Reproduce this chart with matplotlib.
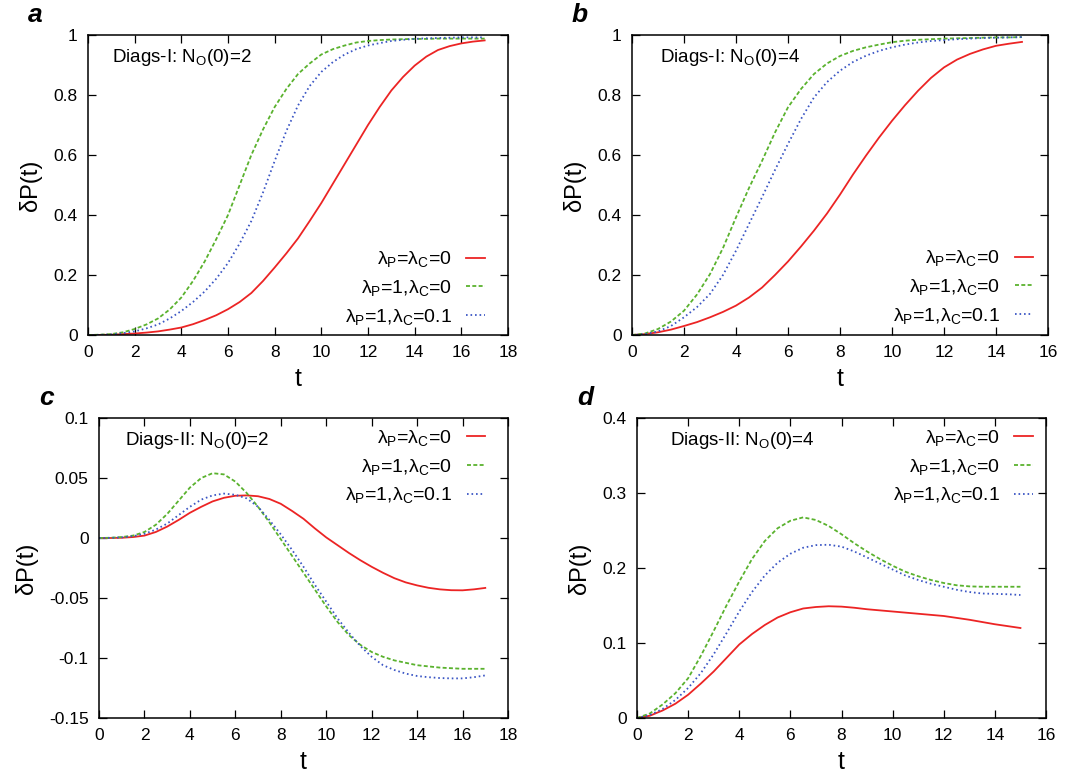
import numpy as np
import matplotlib
matplotlib.use("Agg")
import matplotlib.pyplot as plt

plt.rcParams['font.family'] = ['Liberation Sans', 'DejaVu Sans']
plt.rcParams['mathtext.fontset'] = 'custom'
plt.rcParams['mathtext.rm'] = 'Liberation Sans'
plt.rcParams['mathtext.it'] = 'Liberation Sans:italic'
plt.rcParams['axes.unicode_minus'] = False

# time grids
t17 = np.arange(0, 17.01, 0.5)
t15 = np.arange(0, 15.01, 0.5)

# Diags-I, N_O(0)=2
a_red = [0, 0.0003, 0.001, 0.003, 0.005, 0.008, 0.012, 0.018, 0.025, 0.036, 0.05, 0.066,
         0.086, 0.11, 0.14, 0.18, 0.225, 0.272, 0.322, 0.38, 0.44, 0.505, 0.57, 0.635, 0.7,
         0.76, 0.815, 0.86, 0.898, 0.928, 0.95, 0.963, 0.972, 0.978, 0.982]
a_green = [0, 0.001, 0.003, 0.009, 0.02, 0.035, 0.055, 0.085, 0.125, 0.18, 0.245, 0.32,
           0.4, 0.5, 0.6, 0.685, 0.76, 0.82, 0.87, 0.905, 0.935, 0.953, 0.965, 0.975, 0.98,
           0.983, 0.985, 0.986, 0.987, 0.987, 0.988, 0.988, 0.988, 0.988, 0.988]
a_blue = [0, 0.0005, 0.002, 0.006, 0.012, 0.022, 0.035, 0.055, 0.08, 0.11, 0.145, 0.188,
          0.24, 0.305, 0.38, 0.475, 0.58, 0.68, 0.765, 0.83, 0.877, 0.91, 0.935, 0.953,
          0.965, 0.973, 0.98, 0.984, 0.987, 0.989, 0.99, 0.991, 0.992, 0.992, 0.992]

# Diags-I, N_O(0)=4
b_red = [0, 0.003, 0.009, 0.018, 0.03, 0.043, 0.059, 0.077, 0.098, 0.125, 0.158, 0.2,
         0.245, 0.295, 0.348, 0.405, 0.468, 0.535, 0.598, 0.658, 0.714, 0.766, 0.814,
         0.857, 0.892, 0.918, 0.937, 0.952, 0.964, 0.971, 0.977]
b_green = [0, 0.005, 0.02, 0.045, 0.081, 0.135, 0.203, 0.29, 0.392, 0.49, 0.58, 0.675,
           0.759, 0.82, 0.87, 0.905, 0.93, 0.947, 0.959, 0.968, 0.976, 0.981, 0.984,
           0.986, 0.988, 0.989, 0.99, 0.991, 0.992, 0.992, 0.993]
b_blue = [0, 0.003, 0.012, 0.03, 0.059, 0.093, 0.137, 0.2, 0.281, 0.37, 0.459, 0.55,
          0.637, 0.72, 0.792, 0.843, 0.881, 0.91, 0.931, 0.947, 0.959, 0.968, 0.975,
          0.98, 0.983, 0.986, 0.988, 0.99, 0.991, 0.992, 0.993]

# Diags-II, N_O(0)=2
c_red = [0, 0, 0.0002, 0.0008, 0.002, 0.005, 0.0095, 0.015, 0.021, 0.026, 0.0305, 0.0335,
         0.0352, 0.0355, 0.0348, 0.0325, 0.0285, 0.0225, 0.016, 0.008, 0.0005, -0.006,
         -0.0125, -0.0185, -0.024, -0.029, -0.0335, -0.037, -0.0395, -0.0415, -0.0428,
         -0.0435, -0.0436, -0.0428, -0.0416]
c_green = [0, 0.0002, 0.0008, 0.002, 0.005, 0.011, 0.02, 0.031, 0.042, 0.05, 0.054, 0.053,
           0.047, 0.0375, 0.026, 0.013, -0.001, -0.015, -0.029, -0.043, -0.057, -0.07,
           -0.081, -0.089, -0.095, -0.099, -0.102, -0.104, -0.106, -0.107, -0.108,
           -0.1085, -0.109, -0.109, -0.109]
c_blue = [0, 0.0001, 0.0005, 0.0015, 0.0035, 0.007, 0.012, 0.019, 0.026, 0.032, 0.0355,
          0.037, 0.036, 0.033, 0.026, 0.015, 0.003, -0.01, -0.024, -0.039, -0.053, -0.067,
          -0.079, -0.09, -0.099, -0.106, -0.11, -0.113, -0.115, -0.116, -0.1167, -0.117,
          -0.117, -0.116, -0.1145]

# Diags-II, N_O(0)=4
d_red = [0, 0.003, 0.01, 0.019, 0.031, 0.046, 0.062, 0.08, 0.098, 0.112, 0.124, 0.134,
         0.141, 0.146, 0.148, 0.149, 0.1485, 0.147, 0.145, 0.1435, 0.142, 0.1405, 0.139,
         0.1375, 0.136, 0.1335, 0.131, 0.128, 0.125, 0.1225, 0.12]
d_green = [0, 0.006, 0.018, 0.033, 0.053, 0.083, 0.116, 0.15, 0.182, 0.212, 0.236, 0.253,
           0.263, 0.2675, 0.264, 0.256, 0.245, 0.233, 0.222, 0.212, 0.203, 0.195, 0.189,
           0.184, 0.18, 0.177, 0.1755, 0.175, 0.175, 0.175, 0.175]
d_blue = [0, 0.004, 0.012, 0.024, 0.04, 0.06, 0.085, 0.113, 0.142, 0.168, 0.19, 0.207,
          0.219, 0.227, 0.2305, 0.231, 0.2285, 0.222, 0.214, 0.206, 0.198, 0.19, 0.184,
          0.179, 0.175, 0.171, 0.168, 0.166, 0.1655, 0.165, 0.164]

labels = ['λ$_\\mathrm{P}$=λ$_\\mathrm{C}$=0',
          'λ$_\\mathrm{P}$=1,λ$_\\mathrm{C}$=0',
          'λ$_\\mathrm{P}$=1,λ$_\\mathrm{C}$=0.1']

fig = plt.figure(figsize=(10.85, 7.75), dpi=100)

panels = [
    # letter, rect (px), t, curves, note, xmax, ylim, yticks, labels, legend loc/anchor, note x
    ('a', [88, 35, 420, 300], t17, (a_red, a_green, a_blue), 'Diags-I: N$_\\mathrm{O}$(0)=2',
     18, (0, 1), np.arange(0, 1.01, 0.2), ['0', '0.2', '0.4', '0.6', '0.8', '1'],
     'lower right', (0.945, 0.027), 0.057),
    ('b', [632, 35, 416, 300], t15, (b_red, b_green, b_blue), 'Diags-I: N$_\\mathrm{O}$(0)=4',
     16, (0, 1), np.arange(0, 1.01, 0.2), ['0', '0.2', '0.4', '0.6', '0.8', '1'],
     'lower right', (0.964, 0.03), 0.067),
    ('c', [99, 418, 409, 300], t17, (c_red, c_green, c_blue), 'Diags-II: N$_\\mathrm{O}$(0)=2',
     18, (-0.15, 0.1), np.arange(-0.15, 0.101, 0.05),
     ['-0.15', '-0.1', '-0.05', '0', '0.05', '0.1'],
     'upper right', (0.944, 0.967), 0.064),
    ('d', [637, 418, 409, 300], t15, (d_red, d_green, d_blue), 'Diags-II: N$_\\mathrm{O}$(0)=4',
     16, (0, 0.4), np.arange(0, 0.401, 0.1), ['0', '0.1', '0.2', '0.3', '0.4'],
     'upper right', (0.968, 0.967), 0.08),
]

colors = ['#ec2424', '#5ab22e', '#3a55c4']
W, H = 1085, 775

for letter, (x0, y0, w, h), t, curves, note, xmax, ylim, yt, ytl, loc, anchor, nx in panels:
    ax = fig.add_axes([x0 / W, (H - y0 - h) / H, w / W, h / H])
    ax.plot(t, curves[0], color=colors[0], lw=1.3, label=labels[0])
    ax.plot(t, curves[1], color=colors[1], lw=1.3, dashes=(2.2, 1.3), label=labels[1])
    ax.plot(t, curves[2], color=colors[2], lw=1.3, dashes=(0.9, 1.6), label=labels[2])
    ax.set_xlim(0, xmax)
    ax.set_ylim(*ylim)
    ax.set_xticks(np.arange(0, xmax + 0.1, 2))
    ax.set_yticks(yt)
    ax.set_yticklabels(ytl)
    ax.tick_params(direction='in', length=6, width=0.9, top=True, right=True,
                   labelsize=12.5, pad=7.5)
    for s in ax.spines.values():
        s.set_linewidth(1.1)
    ax.set_xlabel('t', fontsize=18, labelpad=5)
    ax.set_ylabel('δP(t)', fontsize=17, labelpad=8)
    ax.text(nx, 0.925, note, transform=ax.transAxes,
            fontsize=13.5, va='center', ha='left')
    ax.legend(loc=loc, bbox_to_anchor=anchor, markerfirst=False, frameon=False,
              fontsize=14, handlelength=0.95, handletextpad=0.75,
              labelspacing=0.45, borderaxespad=0, borderpad=0)
    fig.text((x0 - 60) / W, 1 - (y0 - 20) / H, letter, fontsize=19,
             fontweight='bold', fontstyle='italic', va='center', ha='left')

fig.savefig('out.png', dpi=100)
